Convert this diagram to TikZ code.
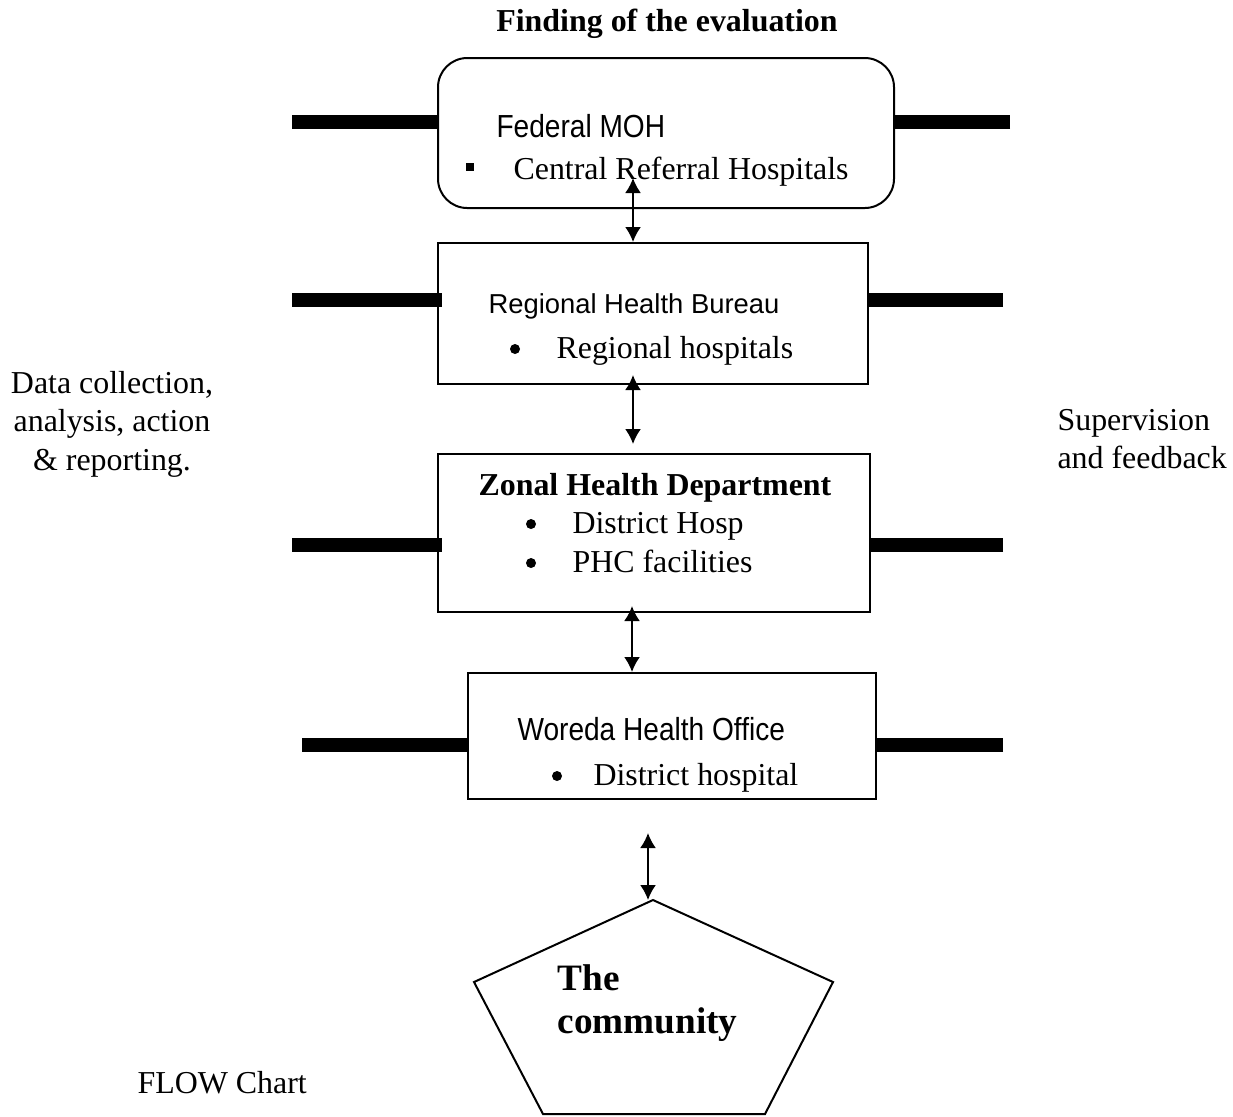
\documentclass[tikz,border=0pt]{standalone}
\usepackage{fontspec}
\setmainfont{Liberation Serif}
\newfontfamily\arialf{Liberation Sans}
\newfontfamily\arialn[FakeStretch=0.88]{Liberation Sans}
\usetikzlibrary{arrows.meta,calc}
\newcommand\px{0.376pt}
\begin{document}
\begin{tikzpicture}[x=0.376pt,y=-0.376pt,
  box/.style={draw,line width=0.75pt,fill=white,inner sep=0pt},
  bar/.style={line width=14*\px},
  link/.style={line width=0.75pt,{Latex[length=15*\px,width=16*\px]}-{Latex[length=15*\px,width=16*\px]}},
  txt/.style={inner sep=0pt,anchor=base west,font=\fontsize{12}{14}\selectfont},
  ctxt/.style={inner sep=0pt,anchor=base,font=\fontsize{12}{14}\selectfont},
  bul/.style={circle,fill=black,inner sep=0pt,minimum size=10*\px}]
\useasboundingbox (0,0) rectangle (1233,1116);
% title
\node[ctxt,font=\fontsize{12}{14}\selectfont\bfseries] (title) at (667,31) {Finding of the evaluation};
% boxes
\node[box,rounded corners=11pt,minimum width=456*\px,minimum height=150*\px] (fed) at (666,133) {};
\node[box,minimum width=430*\px,minimum height=141*\px] (reg) at (653,313.5) {};
\node[box,minimum width=432*\px,minimum height=158*\px] (zon) at (654,533) {};
\node[box,minimum width=408*\px,minimum height=126*\px] (wor) at (672,736) {};
% bars
\coordinate (b1l) at (292,122); \coordinate (b1r) at (1010,122);
\coordinate (b2l) at (292,300); \coordinate (b2r) at (1003,300);
\coordinate (b3l) at (292,545); \coordinate (b3r) at (1003,545);
\coordinate (b4l) at (302,745); \coordinate (b4r) at (1003,745);
\draw[bar] (b1l) -- (b1l -| fed.west);
\draw[bar] (b1r) -- (b1r -| fed.east);
\draw[bar] (b2l) -- ([xshift=5*\px]b2l -| reg.west);
\draw[bar] (b2r) -- (b2r -| reg.east);
\draw[bar] (b3l) -- ([xshift=5*\px]b3l -| zon.west);
\draw[bar] (b3r) -- (b3r -| zon.east);
\draw[bar] (b4l) -- (b4l -| wor.west);
\draw[bar] (b4r) -- (b4r -| wor.east);
% box texts
\node[txt,font=\fontsize{12}{14}\arialn] (fedt) at (496,137) {Federal MOH};
\node[fill=black,inner sep=0pt,minimum size=8*\px] (fedb) at (470,167) {};
\node[txt] (fedl) at (513,179) {Central Referral Hospitals};
\node[txt,font=\fontsize{10.3}{12}\arialf] (regt) at (488,313) {Regional Health Bureau};
\node[bul] (regb) at (515,349) {};
\node[txt] (regl) at (556,358) {Regional hospitals};
\node[txt,font=\fontsize{12}{14}\selectfont\bfseries] (zont) at (478,495) {Zonal Health Department};
\node[bul] (zonb1) at (531,524) {};
\node[txt] (zonl1) at (572,533) {District Hosp};
\node[bul] (zonb2) at (531,563) {};
\node[txt] (zonl2) at (572,572) {PHC facilities};
\node[txt,font=\fontsize{12}{14}\arialn] (wort) at (517,740) {Woreda Health Office};
\node[bul] (worb) at (557,776) {};
\node[txt] (worl) at (593,785) {District hospital};
% pentagon
\coordinate (pt) at (653,900);
\coordinate (pl) at (474,982);
\coordinate (pr) at (833,982);
\coordinate (pbr) at (765,1114);
\coordinate (pbl) at (543,1114);
\draw[line width=0.75pt,line join=miter] (pt) -- (pr) -- (pbr) -- (pbl) -- (pl) -- cycle;
\node[txt,font=\fontsize{14}{16}\selectfont\bfseries] (com1) at (557,990) {The};
\node[txt,font=\fontsize{14}{16}\selectfont\bfseries] (com2) at (557,1033) {community};
% arrows
\coordinate (a1) at (633,178);
\coordinate (a2) at (633,375);
\coordinate (a3) at (632,606);
\coordinate (a4) at (648,833);
\draw[link] (a1) -- (a1 |- reg.north);
\draw[link] (a2) -- ($(a2 |- zon.north)+(0,-9)$);
\draw[link] (a3) -- (a3 |- wor.north);
\draw[link] (a4) -- (a4 |- pt);
% side texts
\node[ctxt] (l1) at (112,393) {Data collection,};
\node[ctxt] (l2) at (112,431) {analysis, action};
\node[ctxt] (l3) at (112,470) {\& reporting.};
\node[txt] (r1) at (1057,430) {Supervision};
\node[txt] (r2) at (1057,468) {and feedback};
\node[txt] (flow) at (137,1093) {FLOW Chart};
\end{tikzpicture}
\end{document}
